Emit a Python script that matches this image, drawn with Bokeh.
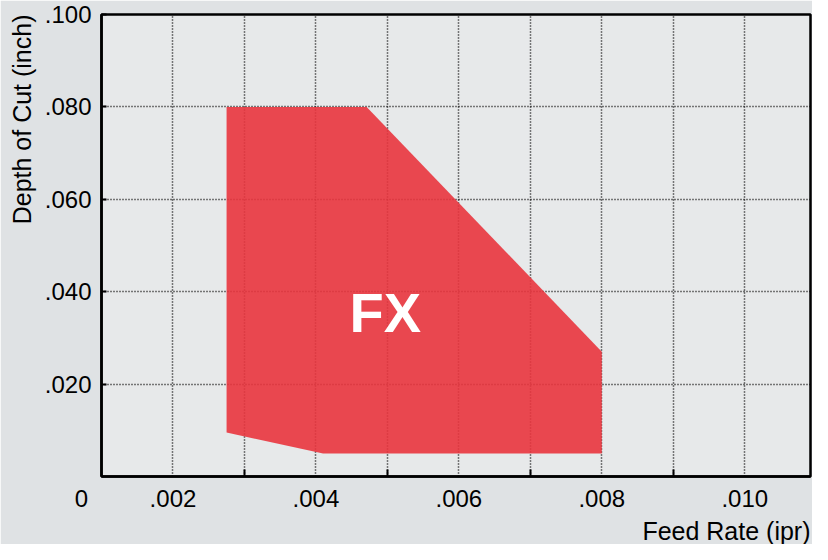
from bokeh.plotting import figure
from bokeh.models import Range1d, FixedTicker, CustomJSTickFormatter, Label, Title
from bokeh.embed import file_html
from bokeh.resources import INLINE

# ---- data ----
x_origin = 0.001
x_label_ticks = [0.002, 0.004, 0.006, 0.008, 0.010]
x_minor_ticks = [0.003, 0.005, 0.007, 0.009]
y_ticks = [0.020, 0.040, 0.060, 0.080, 0.100]
region_feed = [0.00275, 0.00471, 0.0080, 0.0080, 0.0041, 0.00275]
region_doc = [0.080, 0.080, 0.027, 0.005, 0.005, 0.0095]
region_name = "FX"
region_label_pos = (0.00497, 0.0355)
x_title = "Feed Rate (ipr)"
y_title = "Depth of Cut (inch)"
origin_text = "0"

FONT = "Liberation Sans"

p = figure(width=812, height=544, output_backend="svg", toolbar_location=None,
           x_range=Range1d(x_origin, 0.01092), y_range=Range1d(0, 0.1),
           min_border_left=99, min_border_right=2, min_border_top=14, min_border_bottom=66)

p.background_fill_color = "#e7e9ea"
p.border_fill_color = "#dfe2e4"
p.outline_line_color = "black"
p.outline_line_width = 2.5

yfmt = CustomJSTickFormatter(code="return tick.toFixed(3).replace(/^0/, '');")
xfmt = CustomJSTickFormatter(
    args=dict(origin=x_origin, otext=origin_text),
    code="""
if (Math.abs(tick - origin) < 1e-9) { return otext + '\\u00a0'.repeat(6); }
return tick.toFixed(3).replace(/^0/, '');
""")

# x axis
xa = p.xaxis[0]
xa.ticker = FixedTicker(ticks=[x_origin] + x_label_ticks, minor_ticks=x_minor_ticks)
xa.formatter = xfmt
xa.axis_line_width = 2.5
xa.axis_line_color = "black"
xa.major_tick_in = 0
xa.major_tick_out = 0
xa.minor_tick_in = 7
xa.minor_tick_out = 0
xa.minor_tick_line_width = 2
xa.minor_tick_line_color = "black"
xa.major_label_text_font = FONT
xa.major_label_text_font_size = "24px"
xa.major_label_text_color = "black"
xa.major_label_standoff = 8

# y axis
ya = p.yaxis[0]
ya.ticker = FixedTicker(ticks=y_ticks)
ya.formatter = yfmt
ya.axis_line_width = 2.5
ya.axis_line_color = "black"
ya.major_tick_in = 5
ya.major_tick_out = 0
ya.major_tick_line_width = 2
ya.major_tick_line_color = "black"
ya.minor_tick_in = 0
ya.minor_tick_out = 0
ya.major_label_text_font = FONT
ya.major_label_text_font_size = "24px"
ya.major_label_text_color = "black"
ya.major_label_standoff = 10

# grids
for g in (p.xgrid, p.ygrid):
    g.grid_line_color = "black"
    g.grid_line_dash = "1 2"
    g.grid_line_width = 1.5
p.xgrid.minor_grid_line_color = "black"
p.xgrid.minor_grid_line_dash = "1 2"
p.xgrid.minor_grid_line_width = 1.5

# axis titles as side titles
p.add_layout(Title(text=x_title, align="right", standoff=0, offset=0,
                   text_font=FONT, text_font_size="25px", text_font_style="normal",
                   text_color="black"), "below")
p.add_layout(Title(text=y_title, align="right", standoff=11, offset=0,
                   text_font=FONT, text_font_size="25px", text_font_style="normal",
                   text_color="black"), "left")

# region
p.patch(region_feed, region_doc, fill_color="#e9353e", fill_alpha=0.9, line_color=None)

p.add_layout(Label(x=region_label_pos[0], y=region_label_pos[1], text=region_name,
                   text_align="center", text_baseline="middle",
                   text_font=FONT, text_font_style="bold", text_font_size="56px",
                   text_color="white"))

open("out.html", "w").write(file_html(p, INLINE))
